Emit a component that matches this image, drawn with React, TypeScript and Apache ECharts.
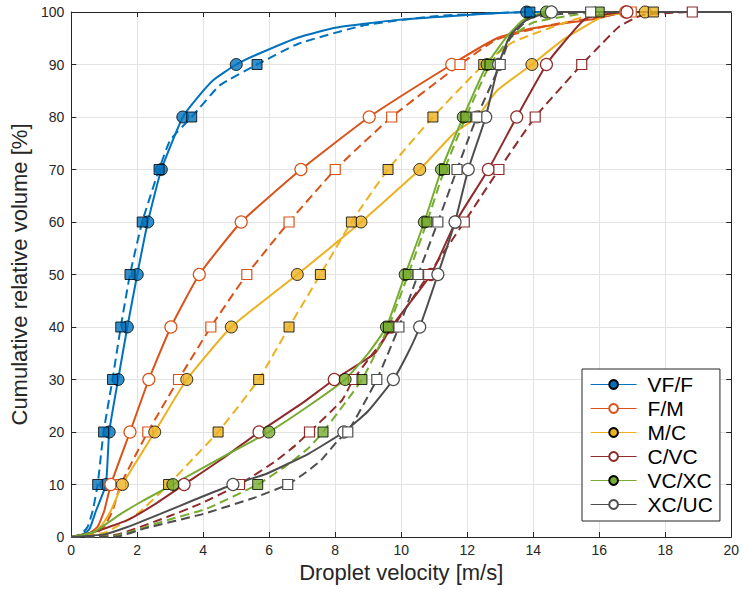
import { useEffect, useRef } from 'react';
import * as echarts from 'echarts';

// Cumulative volume levels at which markers are placed (%)
const DECILES = [10, 20, 30, 40, 50, 60, 70, 80, 90, 100];

const NAMES = ['VF/F', 'F/M', 'M/C', 'C/VC', 'VC/XC', 'XC/UC'];

// Marker velocities (m/s) at each decile: circles = solid curves, squares = dashed curves
const VF_CIRCLE_X = [1.05, 1.15, 1.42, 1.7, 2.0, 2.32, 2.73, 3.38, 5.0, 13.8];
const VF_SQUARE_X = [0.8, 0.98, 1.25, 1.5, 1.78, 2.15, 2.66, 3.65, 5.63, 13.9];
const FM_CIRCLE_X = [1.2, 1.78, 2.35, 3.02, 3.88, 5.15, 6.96, 9.03, 11.53, 16.8];
const FM_SQUARE_X = [1.5, 2.32, 3.25, 4.23, 5.32, 6.6, 8.0, 9.71, 11.78, 16.97];
const MC_CIRCLE_X = [1.55, 2.53, 3.5, 4.85, 6.85, 8.78, 10.56, 12.3, 13.96, 17.39];
const MC_SQUARE_X = [2.95, 4.45, 5.68, 6.6, 7.55, 8.49, 9.6, 10.96, 12.5, 17.64];
const CVC_CIRCLE_X = [3.42, 5.69, 7.97, 9.7, 10.9, 11.65, 12.64, 13.5, 14.4, 16.84];
const CVC_SQUARE_X = [5.1, 7.22, 8.55, 9.75, 10.83, 11.91, 12.96, 14.06, 15.47, 18.82];
const VXC_CIRCLE_X = [3.08, 5.99, 8.3, 9.55, 10.12, 10.7, 11.22, 11.88, 12.6, 14.4];
const VXC_SQUARE_X = [5.65, 7.63, 8.81, 9.61, 10.21, 10.78, 11.31, 11.96, 12.69, 16.0];
const XUC_CIRCLE_X = [4.9, 8.26, 9.76, 10.56, 11.11, 11.63, 12.03, 12.56, 12.95, 14.55];
const XUC_SQUARE_X = [6.56, 8.38, 9.26, 9.93, 10.51, 11.11, 11.69, 12.29, 13.0, 15.74];

// Additional curve points [velocity, cumulative %] read between markers
const VF_SOLID_EXTRA = [[0, 0], [0.3, 0.3], [0.55, 1.5], [0.75, 5], [3.8, 83.5], [4.3, 87], [5.7, 92.1], [6.9, 95.2], [8.0, 97], [9.9, 98.5], [11.9, 99.4], [20, 100]];
const VF_DASH_EXTRA = [[0, 0], [0.3, 0.5], [0.5, 2], [0.65, 5], [3.0, 75.6], [4.5, 86], [6.9, 94], [8.9, 97.5], [11, 99.2], [20, 100]];
const FM_SOLID_EXTRA = [[0, 0], [0.5, 0.5], [0.8, 2], [1.0, 5], [12.9, 95], [13.9, 96.8], [14.9, 97.8], [15.9, 98.7], [20, 100]];
const FM_DASH_EXTRA = [[0, 0], [0.7, 0.5], [1.0, 2], [1.25, 5], [12.9, 94.8], [14.5, 97.5], [16, 99], [20, 100]];
const MC_SOLID_EXTRA = [[0, 0], [0.6, 0.5], [0.9, 2], [1.2, 5], [11.6, 76.9], [12.9, 85], [14.9, 94.7], [16.2, 99.4], [20, 100]];
const MC_DASH_EXTRA = [[0, 0], [1.0, 0.8], [2.0, 4.4], [3.7, 15], [13.4, 94.3], [15.5, 99], [20, 100]];
const CVC_SOLID_EXTRA = [[0, 0], [0.7, 1], [1.7, 3.2], [2.6, 6.5], [4.6, 15], [7.0, 25.5], [9.2, 35], [14.9, 94], [15.6, 98.8], [20, 100]];
const CVC_DASH_EXTRA = [[0, 0], [1.4, 0.5], [2.9, 3.8], [3.9, 6.3], [6.2, 14.5], [6.8, 17.5], [8.2, 26], [15.9, 92.8], [16.6, 97.2], [17.3, 99.4], [20, 100]];
const VXC_SOLID_EXTRA = [[0, 0], [0.7, 1], [1.5, 4.4], [2.2, 7], [4.4, 14.6], [7.2, 25], [9.0, 35], [13.2, 95.3], [13.7, 98.5], [20, 100]];
const VXC_DASH_EXTRA = [[0, 0], [1.4, 0.3], [2.9, 3.2], [4.1, 5.4], [6.5, 13.5], [7.2, 17.0], [13.3, 95], [14.0, 98], [20, 100]];
const XUC_SOLID_EXTRA = [[0, 0], [1.0, 0.5], [1.7, 1.9], [2.7, 4.4], [3.7, 7], [5.9, 12], [7.2, 15.9], [9.0, 24], [10.2, 35], [13.3, 95.5], [13.8, 98.5], [20, 100]];
const XUC_DASH_EXTRA = [[0, 0], [1.4, 0.1], [2.2, 1.6], [4.0, 4.4], [5.6, 7.6], [7.0, 11.8], [7.55, 14.5], [8.1, 18.5], [13.3, 95], [13.9, 98.8], [20, 100]];

const X_TICKS = { min: 0, max: 20, interval: 2 };
const Y_TICKS = { min: 0, max: 100, interval: 10 };

const FONT = 'Liberation Sans, Arial, Helvetica, sans-serif';
const AXIS_COLOR = '#262626';

const CLASSES = [
  { name: NAMES[0], color: '#0072BD', filled: true, circ: VF_CIRCLE_X, sq: VF_SQUARE_X, solid: VF_SOLID_EXTRA, dash: VF_DASH_EXTRA },
  { name: NAMES[1], color: '#D95319', filled: false, circ: FM_CIRCLE_X, sq: FM_SQUARE_X, solid: FM_SOLID_EXTRA, dash: FM_DASH_EXTRA },
  { name: NAMES[2], color: '#EDB120', filled: true, circ: MC_CIRCLE_X, sq: MC_SQUARE_X, solid: MC_SOLID_EXTRA, dash: MC_DASH_EXTRA },
  { name: NAMES[3], color: '#8E2B2B', filled: false, circ: CVC_CIRCLE_X, sq: CVC_SQUARE_X, solid: CVC_SOLID_EXTRA, dash: CVC_DASH_EXTRA },
  { name: NAMES[4], color: '#77AC30', filled: true, circ: VXC_CIRCLE_X, sq: VXC_SQUARE_X, solid: VXC_SOLID_EXTRA, dash: VXC_DASH_EXTRA },
  { name: NAMES[5], color: '#4D4D4D', filled: false, circ: XUC_CIRCLE_X, sq: XUC_SQUARE_X, solid: XUC_SOLID_EXTRA, dash: XUC_DASH_EXTRA },
];

function curve(extra: number[][], xs: number[]) {
  const pts = [...extra, ...DECILES.map((y, i) => [xs[i], y])];
  return pts.sort((a, b) => a[1] - b[1] || a[0] - b[0]);
}

function markerStyle(color: string, filled: boolean) {
  return filled
    ? { color, borderColor: '#000', borderWidth: 1 }
    : { color: '#fff', borderColor: color, borderWidth: 1.2, opacity: 1 };
}

function buildSeries() {
  const series: any[] = [];
  CLASSES.forEach((c) => {
    const ms = markerStyle(c.color, c.filled);
    series.push({
      type: 'line',
      name: c.name,
      data: curve(c.solid, c.circ),
      symbol: 'circle',
      showSymbol: false,
      smooth: 0.15,
      z: 2,
      lineStyle: { color: c.color, width: 2 },
      itemStyle: ms,
      emphasis: { disabled: true },
      silent: true,
    });
    series.push({
      type: 'scatter',
      name: c.name + ' markers solid',
      data: DECILES.map((y, i) => [c.circ[i], y]),
      symbol: 'circle',
      symbolSize: 12,
      z: 3,
      itemStyle: ms,
      emphasis: { disabled: true },
      silent: true,
    });
    series.push({
      type: 'line',
      name: c.name + ' dashed',
      data: curve(c.dash, c.sq),
      symbol: 'none',
      smooth: 0.15,
      z: 2,
      lineStyle: { color: c.color, width: 2, type: [9, 5] },
      emphasis: { disabled: true },
      silent: true,
    });
    series.push({
      type: 'scatter',
      name: c.name + ' markers dashed',
      data: DECILES.map((y, i) => [c.sq[i], y]),
      symbol: 'rect',
      symbolSize: 10,
      z: 3,
      itemStyle: ms,
      emphasis: { disabled: true },
      silent: true,
    });
  });
  return series;
}

const tickLabel = { fontFamily: FONT, fontSize: 14, color: AXIS_COLOR };

export default function App() {
  const ref = useRef<HTMLDivElement>(null);
  useEffect(() => {
    const chart = echarts.init(ref.current!, null, { renderer: 'svg' });
    chart.setOption({
      animation: false,
      backgroundColor: '#fff',
      grid: { left: 70, top: 12, width: 666, height: 525, containLabel: false },
      xAxis: [
        {
          type: 'value',
          ...X_TICKS,
          position: 'bottom',
          name: 'Droplet velocity [m/s]',
          nameLocation: 'middle',
          nameGap: 22,
          nameTextStyle: { fontFamily: FONT, fontSize: 22, color: AXIS_COLOR },
          axisLine: { show: true, onZero: false, lineStyle: { color: AXIS_COLOR, width: 1 } },
          axisTick: { show: true, inside: true, length: 5, lineStyle: { color: AXIS_COLOR } },
          axisLabel: { ...tickLabel, margin: 6 },
          splitLine: { show: true, lineStyle: { color: '#e3e3e3', width: 1 } },
        },
        {
          type: 'value',
          ...X_TICKS,
          position: 'top',
          axisLine: { show: true, onZero: false, lineStyle: { color: AXIS_COLOR, width: 1 } },
          axisTick: { show: true, inside: true, length: 5, lineStyle: { color: AXIS_COLOR } },
          axisLabel: { show: false },
          splitLine: { show: false },
        },
      ],
      yAxis: [
        {
          type: 'value',
          ...Y_TICKS,
          position: 'left',
          name: 'Cumulative relative volume [%]',
          nameLocation: 'middle',
          nameGap: 37,
          nameTextStyle: { fontFamily: FONT, fontSize: 22, color: AXIS_COLOR },
          axisLine: { show: true, onZero: false, lineStyle: { color: AXIS_COLOR, width: 1 } },
          axisTick: { show: true, inside: true, length: 5, lineStyle: { color: AXIS_COLOR } },
          axisLabel: { ...tickLabel, margin: 7 },
          splitLine: { show: true, lineStyle: { color: '#e3e3e3', width: 1 } },
        },
        {
          type: 'value',
          ...Y_TICKS,
          position: 'right',
          axisLine: { show: true, onZero: false, lineStyle: { color: AXIS_COLOR, width: 1 } },
          axisTick: { show: true, inside: true, length: 5, lineStyle: { color: AXIS_COLOR } },
          axisLabel: { show: false },
          splitLine: { show: false },
        },
      ],
      legend: {
        data: NAMES,
        orient: 'vertical',
        left: 582,
        top: 369,
        padding: [5, 7, 6, 8],
        itemGap: 3,
        itemWidth: 46,
        itemHeight: 11,
        backgroundColor: '#fff',
        borderColor: AXIS_COLOR,
        borderWidth: 1,
        borderRadius: 0,
        selectedMode: false,
        lineStyle: { width: 1.2 },
        textStyle: { fontFamily: FONT, fontSize: 21, color: '#000', padding: [0, 0, 0, 6] },
      },
      series: buildSeries(),
    });
    return () => chart.dispose();
  }, []);
  return (
    <div
      ref={ref}
      style={{ position: 'fixed', left: 0, top: 0, width: 742, height: 589, background: '#fff' }}
    />
  );
}
